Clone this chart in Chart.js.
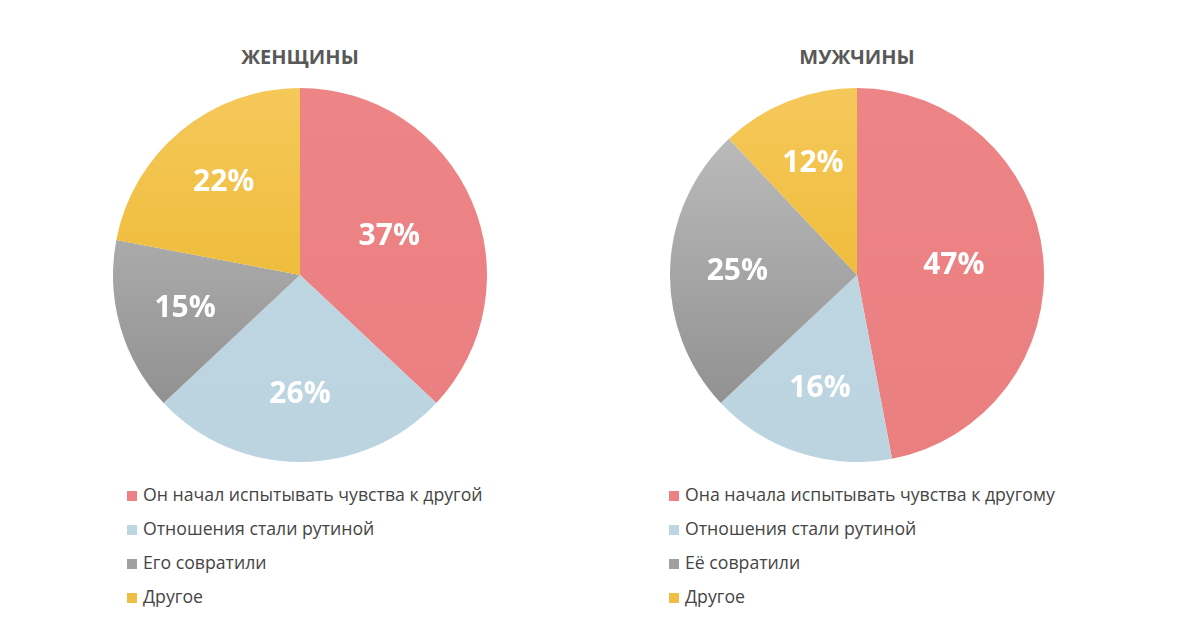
<!DOCTYPE html>
<html>
<head>
<meta charset="utf-8">
<script src="https://cdn.jsdelivr.net/npm/chart.js@4/dist/chart.umd.min.js"></script>
<style>
  html, body { margin: 0; padding: 0; background: #ffffff; }
  #wrap { position: relative; width: 1200px; height: 628px; overflow: hidden; font-family: "Open Sans", sans-serif; }
  .title { position: absolute; top: 42px; width: 300px; text-align: center; font-weight: 700; font-size: 20px; color: #595959; line-height: 30px; }
  canvas { position: absolute; }
  .legend { position: absolute; top: 480px; font-size: 17.7px; color: #454545; }
  .legend div { height: 34px; line-height: 28px; white-space: nowrap; }
  .legend span.sw { display: inline-block; width: 10px; height: 10px; margin-right: 6px; vertical-align: 0px; }
</style>
</head>
<body>
<div id="wrap">
  <div class="title" id="t1" style="left:150px"></div>
  <div class="title" id="t2" style="left:707px"></div>
  <canvas id="c1" width="374" height="374" style="left:113px; top:88px"></canvas>
  <canvas id="c2" width="374" height="374" style="left:670px; top:88px"></canvas>
  <div class="legend" id="l1" style="left:127px"></div>
  <div class="legend" id="l2" style="left:669px"></div>
</div>
<script>
const titles = ["ЖЕНЩИНЫ", "МУЖЧИНЫ"];
const womenLabels = ["Он начал испытывать чувства к другой", "Отношения стали рутиной", "Его совратили", "Другое"];
const menLabels = ["Она начала испытывать чувства к другому", "Отношения стали рутиной", "Её совратили", "Другое"];
const womenValues = [37, 26, 15, 22];
const menValues = [47, 16, 25, 12];
const swatchColors = ["#ec8283", "#bed5e2", "#a0a0a0", "#efbf45"];

function sliceColor(ctx) {
  const chart = ctx.chart;
  const area = chart.chartArea;
  const i = ctx.dataIndex;
  if (!area) return swatchColors[i];
  const c = chart.ctx;
  const g = c.createLinearGradient(0, area.top, 0, area.bottom);
  if (i === 0) { g.addColorStop(0, "#ed8485"); g.addColorStop(1, "#ea7f80"); }
  else if (i === 1) { g.addColorStop(0, "#c0d7e4"); g.addColorStop(1, "#bcd3e0"); }
  else if (i === 2) { g.addColorStop(0, "#c2c2c2"); g.addColorStop(1, "#888888"); }
  else { g.addColorStop(0, "#f5c85a"); g.addColorStop(0.5, "#efbd3c"); g.addColorStop(1, "#e6b02a"); }
  return g;
}

const pctLabels = {
  id: "pctLabels",
  afterDatasetsDraw(chart) {
    const c = chart.ctx;
    const meta = chart.getDatasetMeta(0);
    const data = chart.data.datasets[0].data;
    c.save();
    c.fillStyle = "#ffffff";
    c.font = "700 30px 'Open Sans', sans-serif";
    c.textAlign = "center";
    c.textBaseline = "middle";
    meta.data.forEach((arc, i) => {
      const p = arc.getProps(["x", "y", "startAngle", "endAngle", "outerRadius"], true);
      const mid = (p.startAngle + p.endAngle) / 2;
      const frac = data[i] >= 35 ? 0.52 : 0.64;
      const r = p.outerRadius * frac;
      c.fillText(data[i] + "%", p.x + Math.cos(mid) * r, p.y + Math.sin(mid) * r);
    });
    c.restore();
  }
};

function makePie(id, labels, values) {
  return new Chart(document.getElementById(id), {
    type: "pie",
    data: { labels: labels, datasets: [{ data: values, backgroundColor: sliceColor, borderWidth: 0 }] },
    options: {
      responsive: false,
      animation: false,
      layout: { padding: 0 },
      plugins: { legend: { display: false }, tooltip: { enabled: false }, title: { display: false } }
    },
    plugins: [pctLabels]
  });
}

makePie("c1", womenLabels, womenValues);
makePie("c2", menLabels, menValues);

document.getElementById("t1").textContent = titles[0];
document.getElementById("t2").textContent = titles[1];

function makeLegend(id, labels) {
  const el = document.getElementById(id);
  labels.forEach((lab, i) => {
    const row = document.createElement("div");
    const sw = document.createElement("span");
    sw.className = "sw";
    sw.style.background = swatchColors[i];
    row.appendChild(sw);
    row.appendChild(document.createTextNode(lab));
    el.appendChild(row);
  });
}
makeLegend("l1", womenLabels);
makeLegend("l2", menLabels);
</script>
</body>
</html>
